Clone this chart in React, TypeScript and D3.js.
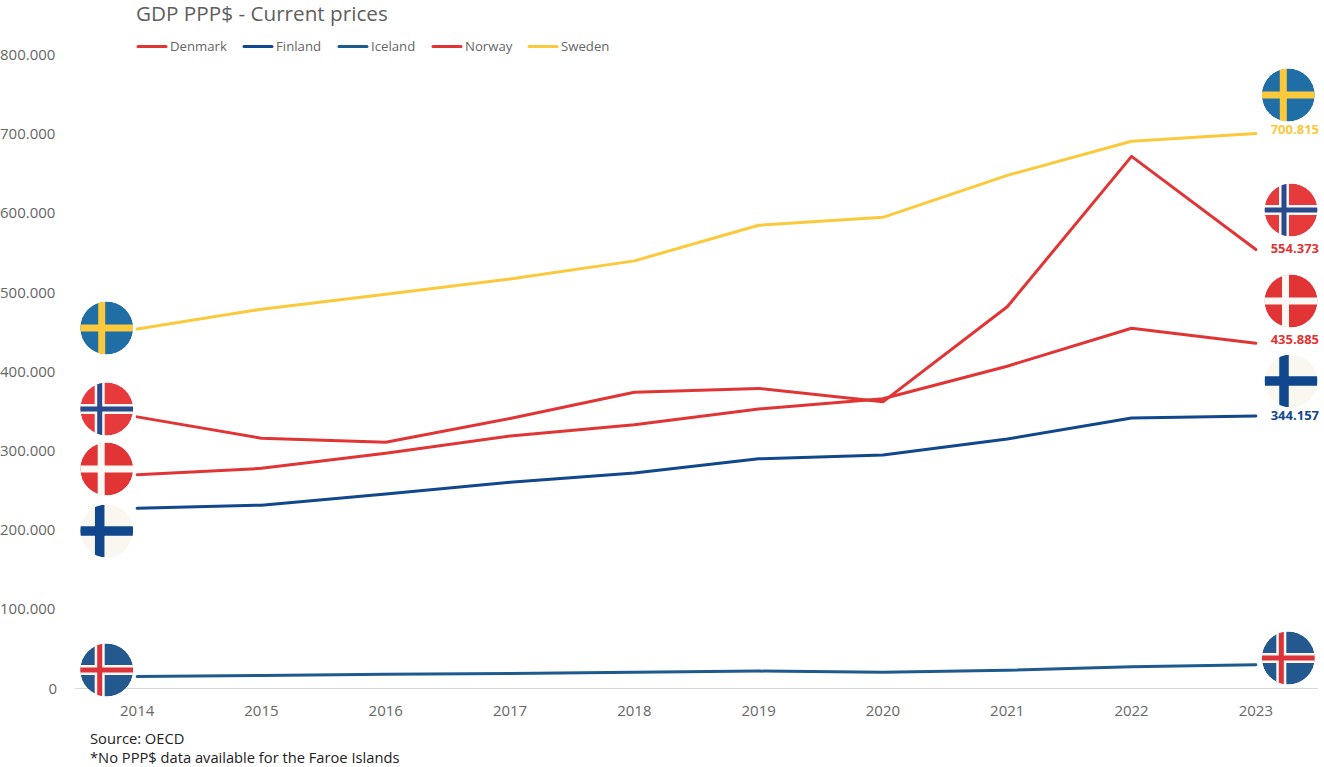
import * as d3 from 'd3';

const years = ['2014', '2015', '2016', '2017', '2018', '2019', '2020', '2021', '2022', '2023'];
const denmark = [270000, 278000, 297000, 319000, 333000, 353000, 366000, 407000, 455000, 435885];
const finland = [227500, 231500, 245500, 260500, 272000, 290000, 295000, 315000, 341500, 344157];
const iceland = [15000, 16500, 18000, 19000, 20500, 22000, 20500, 23000, 27500, 30000];
const norway = [343000, 316000, 311000, 341000, 374000, 379000, 362000, 482000, 672000, 554373];
const sweden = [454000, 479000, 498000, 517000, 540000, 585000, 595000, 648000, 691000, 700815];
const yTicks = [0, 100000, 200000, 300000, 400000, 500000, 600000, 700000, 800000];

const RED = '#e13535';
const NAVY = '#11478c';
const BLUE = '#1f5a8e';
const YELLOW = '#fbc93c';

const series = [
  { name: 'Denmark', values: denmark, color: RED },
  { name: 'Finland', values: finland, color: NAVY },
  { name: 'Iceland', values: iceland, color: BLUE },
  { name: 'Norway', values: norway, color: RED },
  { name: 'Sweden', values: sweden, color: YELLOW },
];

// flag look: field, cross and (for the nordic double cross) inner cross
const flags: Record<string, { field: string; cross: string; inner?: string; w: number; dx: number }> = {
  Sweden: { field: '#1f6ea6', cross: '#fbc93c', w: 7, dx: -5 },
  Norway: { field: '#e63a3c', cross: '#fbf7f3', inner: '#2a4a8e', w: 10, dx: -7 },
  Denmark: { field: '#e13535', cross: '#fbf7f3', w: 7, dx: -5.5 },
  Finland: { field: '#faf6f0', cross: '#11478c', w: 9.5, dx: -7 },
  Iceland: { field: '#24598f', cross: '#fbf7f3', inner: '#dc3239', w: 10, dx: -7 },
};

// where the flag badges sit, they are moved off the lines by hand in the original
const leftFlags = [
  { name: 'Sweden', x: 106.7, y: 328 },
  { name: 'Norway', x: 106.7, y: 409 },
  { name: 'Denmark', x: 106.7, y: 469 },
  { name: 'Finland', x: 106.7, y: 531 },
  { name: 'Iceland', x: 106.7, y: 670 },
];
const rightFlags = [
  { name: 'Sweden', x: 1288.3, y: 95, labelY: 134 },
  { name: 'Norway', x: 1291, y: 210, labelY: 253 },
  { name: 'Denmark', x: 1291, y: 301, labelY: 344 },
  { name: 'Finland', x: 1291, y: 381, labelY: 420 },
  { name: 'Iceland', x: 1288.3, y: 658 },
];

const FONT = '"Open Sans", sans-serif';
const WIDTH = 1324;
const HEIGHT = 767;
const R = 26.5;

const fmt = d3.formatLocale({ decimal: ',', thousands: '.', grouping: [3], currency: ['', '$'] }).format(',d');

const Flag = ({ name, x, y, id }: { name: string; x: number; y: number; id: string }) => {
  const f = flags[name];
  const bar = (w: number, color: string) => (
    <g fill={color}>
      <rect x={x - R} y={y - w / 2} width={R * 2} height={w} />
      <rect x={x + f.dx - w / 2} y={y - R} width={w} height={R * 2} />
    </g>
  );
  return (
    <g clipPath={`url(#${id})`}>
      <clipPath id={id}>
        <circle cx={x} cy={y} r={R} />
      </clipPath>
      <circle cx={x} cy={y} r={R} fill={f.field} />
      {bar(f.w, f.cross)}
      {f.inner && bar(5, f.inner)}
    </g>
  );
};

export default function App() {
  const x = d3.scaleBand<string>().domain(years).range([75, 1318]);
  const y = d3.scaleLinear().domain([0, 800000]).range([688.5, 55]);
  const px = (yr: string) => (x(yr) as number) + x.bandwidth() / 2;
  const line = d3
    .line<number>()
    .x((_d, i) => px(years[i]))
    .y((d) => y(d));

  let legendX = 137;
  const legendWidths = [106, 95, 94, 96, 90];

  return (
    <svg width={WIDTH} height={HEIGHT} style={{ position: 'absolute', left: 0, top: 0 }} fontFamily={FONT}>
      <text x={136} y={20.5} fontSize={20.7} fill="#5e5e5e">GDP PPP$ - Current prices</text>

      {series.map((s, i) => {
        const lx = legendX;
        legendX += legendWidths[i];
        return (
          <g key={s.name}>
            <line x1={lx + 1} x2={lx + 29} y1={46.5} y2={46.5} stroke={s.color} strokeWidth={3} strokeLinecap="round" />
            <text x={lx + 33} y={51} fontSize={13.2} fill="#666">{s.name}</text>
          </g>
        );
      })}

      {yTicks.map((t) => (
        <text key={t} x={t === 0 ? 57 : 0} y={y(t) + 5} textAnchor={t === 0 ? 'end' : 'start'} fontSize={15} fill="#666">
          {fmt(t)}
        </text>
      ))}
      <line x1={75} x2={1318} y1={688.5} y2={688.5} stroke="#d9d9d9" strokeWidth={1} />
      {years.map((yr) => (
        <text key={yr} x={px(yr)} y={716} textAnchor="middle" fontSize={15} fill="#666">{yr}</text>
      ))}

      {series.map((s) => (
        <path key={s.name} d={line(s.values) as string} fill="none" stroke={s.color} strokeWidth={3} strokeLinejoin="round" strokeLinecap="round" />
      ))}

      {leftFlags.map((f) => (
        <Flag key={f.name} name={f.name} x={f.x} y={f.y} id={`left-${f.name}`} />
      ))}
      {rightFlags.map((f) => {
        const s = series.find((d) => d.name === f.name)!;
        return (
          <g key={f.name}>
            <Flag name={f.name} x={f.x} y={f.y} id={`right-${f.name}`} />
            {f.labelY && (
              <text x={1319} y={f.labelY} textAnchor="end" fontSize={13} fontWeight={700} fill={s.color}>
                {fmt(s.values[s.values.length - 1])}
              </text>
            )}
          </g>
        );
      })}

      <text x={90} y={744} fontSize={14.7} fill="#222">Source: OECD</text>
      <text x={90} y={763} fontSize={14.7} fill="#222">*No PPP$ data available for the Faroe Islands</text>
    </svg>
  );
}
